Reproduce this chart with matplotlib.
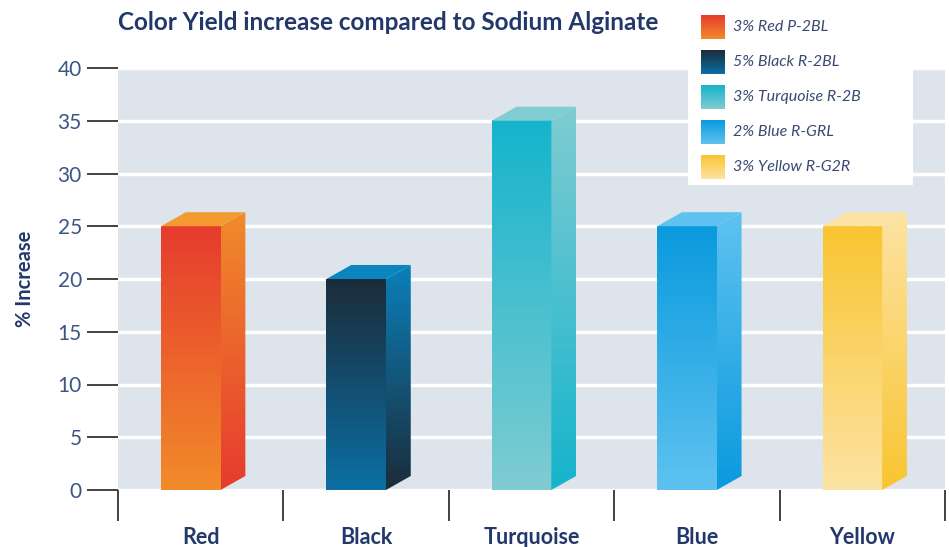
import matplotlib
matplotlib.use("Agg")
import matplotlib.pyplot as plt
import numpy as np
from matplotlib.patches import Polygon, Rectangle
from matplotlib.colors import to_rgb

plt.rcParams['font.family'] = ['Lato', 'DejaVu Sans']

# data
categories = ['Red', 'Black', 'Turquoise', 'Blue', 'Yellow']
values = [25, 20, 35, 25, 25]
legend_labels = ['3% Red P-2BL', '5% Black R-2BL', '3% Turquoise R-2B',
                 '2% Blue R-GRL', '3% Yellow R-G2R']
y_ticks = [0, 5, 10, 15, 20, 25, 30, 35, 40]

# colours: (front top, front bottom, side top, side bottom, top face)
bar_colors = [
    ('#e63b2e', '#f28b2a', '#f08a2c', '#e63b2e', '#f39a30'),
    ('#1b2c3a', '#0b6fa3', '#0b80bb', '#1b2c3a', '#0b85c0'),
    ('#15b4cc', '#7fccd2', '#7fccd2', '#15b4cc', '#80cdd3'),
    ('#0a9ade', '#5ec2f0', '#5ec2f0', '#0a9ade', '#5ec2f0'),
    ('#f9c531', '#fde3a3', '#fde3a3', '#f9c531', '#fde3a3'),
]
navy = '#23386a'
tick_col = '#3b5585'
bg_col = '#dde4eb'


def grad(top, bottom, n=128):
    t = np.linspace(0, 1, n)[:, None]
    a = np.array(to_rgb(bottom))
    b = np.array(to_rgb(top))
    img = a[None, :] * (1 - t) + b[None, :] * t
    return img[:, None, :]


W, H = 949, 547
fig = plt.figure(figsize=(W / 100, H / 100), dpi=100)
ax = fig.add_axes([118 / W, 57 / H, 827 / W, 422 / H])
ax.set_facecolor(bg_col)

for s in ax.spines.values():
    s.set_visible(False)
ax.set_yticks(y_ticks)
ax.yaxis.grid(True, color='white', linewidth=2.5)
ax.set_axisbelow(True)

front_w = 0.36
dx = 0.15
dy = 1.33
for i, v in enumerate(values):
    ft, fb, st, sb, tc = bar_colors[i]
    x0 = i + 0.26
    x1 = x0 + front_w
    ax.imshow(grad(ft, fb), extent=[x0, x1, 0, v], origin='lower',
              aspect='auto', zorder=3, interpolation='bilinear')
    side = Polygon([(x1, 0), (x1 + dx, dy), (x1 + dx, v + dy), (x1, v)],
                   closed=True, facecolor='none', edgecolor='none')
    ax.add_patch(side)
    im = ax.imshow(grad(st, sb), extent=[x1, x1 + dx, 0, v + dy], origin='lower',
                   aspect='auto', zorder=3, interpolation='bilinear')
    im.set_clip_path(side)
    ax.add_patch(Polygon([(x0, v), (x0 + dx, v + dy), (x1 + dx, v + dy), (x1, v)],
                         closed=True, facecolor=tc, edgecolor='none', zorder=3))

ax.set_xlim(0, 5)
ax.set_ylim(0, 40)

ax.set_xticks(range(6))
ax.set_xticklabels([])
ax.set_xticks([i + 0.5 for i in range(5)], minor=True)
ax.set_xticklabels(categories, minor=True, fontsize=15.5, fontweight='bold', color=navy)
ax.tick_params(axis='x', which='major', length=22, width=1.3, color='#333333', direction='out')
ax.tick_params(axis='x', which='minor', length=0, pad=27)
ax.tick_params(axis='y', length=22, width=1.3, color='#333333', labelsize=15,
               labelcolor=tick_col, pad=4)

ax.set_ylabel('% Increase', fontsize=14.5, fontweight='bold', color=navy, labelpad=16)

fig.text(118 / W, 1 - 22 / H, 'Color Yield increase compared to Sodium Alginate',
         fontsize=17.5, fontweight='bold', color=navy, va='center', ha='left')

# legend box
lx0, lx1, ly1 = 688, 913, 185
lax = fig.add_axes([lx0 / W, 1 - ly1 / H, (lx1 - lx0) / W, ly1 / H])
lax.set_facecolor('white')
lax.set_xlim(lx0, lx1)
lax.set_ylim(ly1, 0)
lax.axis('off')
lax.add_patch(Rectangle((lx0, 0), lx1 - lx0, ly1, facecolor='white', edgecolor='none', zorder=0))
for k, lab in enumerate(legend_labels):
    ft, fb = bar_colors[k][0], bar_colors[k][1]
    cy = 27 + 35 * k
    lax.imshow(grad(ft, fb)[::-1], extent=[701, 725, cy + 12, cy - 12],
               aspect='auto', zorder=2, interpolation='bilinear')
    lax.text(733, cy, lab, fontsize=11.5, fontstyle='italic', color='#3a4a72',
             va='center', ha='left')
lax.set_xlim(lx0, lx1)
lax.set_ylim(ly1, 0)

fig.savefig('out.png', dpi=100)
